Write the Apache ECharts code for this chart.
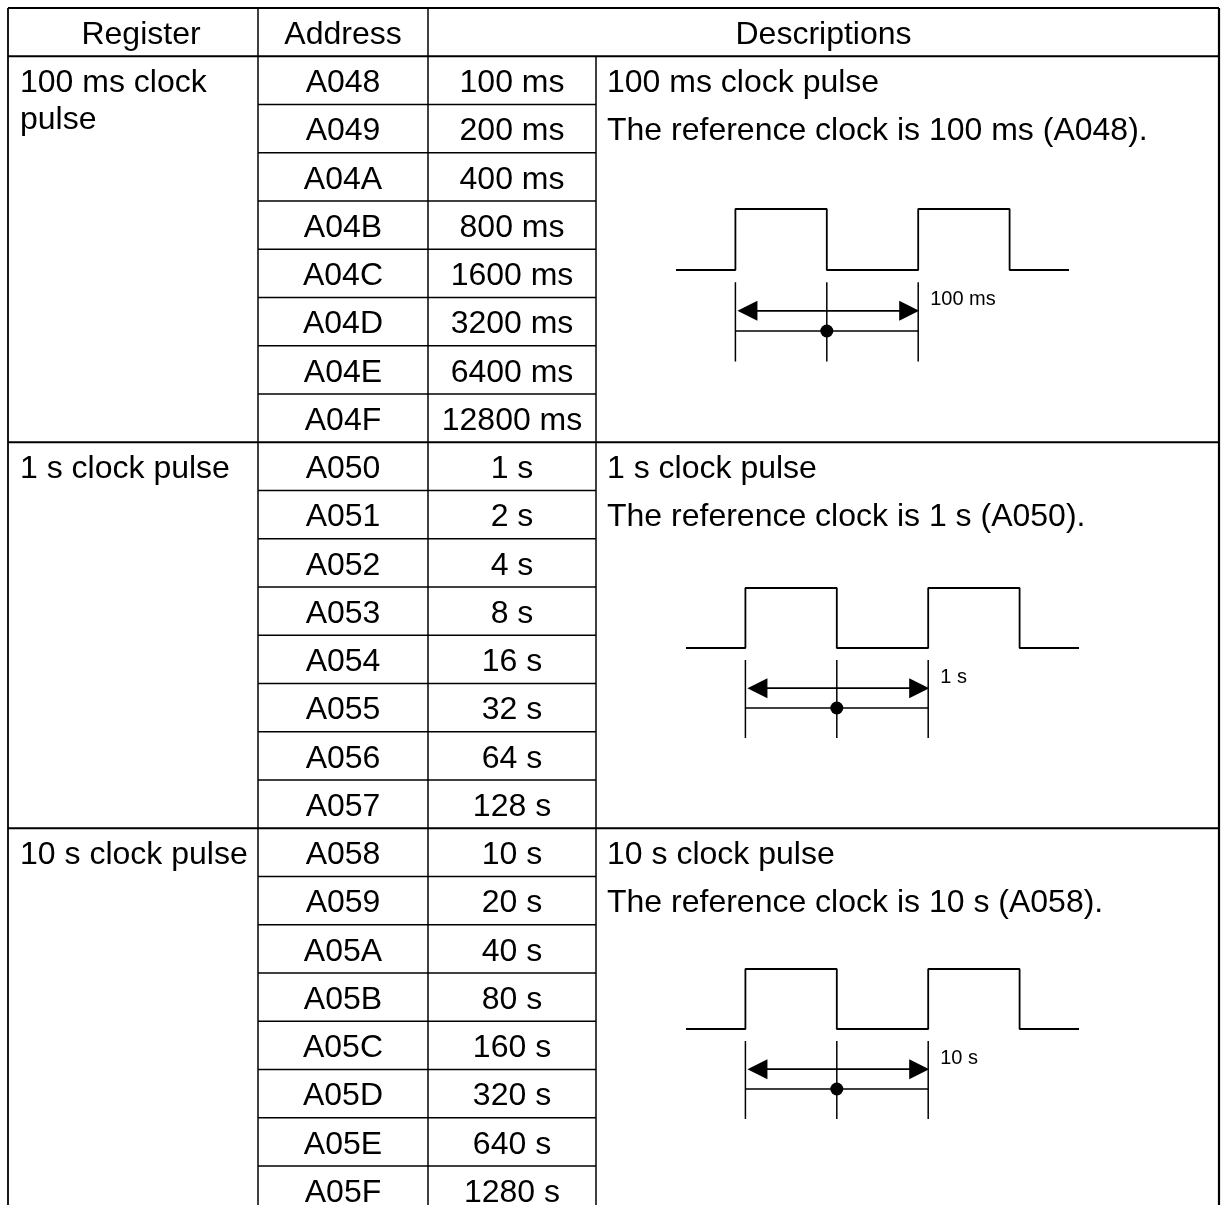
<!DOCTYPE html>
<html>
<head>
<meta charset="utf-8">
<script src="https://cdn.jsdelivr.net/npm/echarts@6/dist/echarts.min.js"></script>
<style>html,body{margin:0;padding:0;background:#fff}#c{width:1224px;height:1205px}</style>
</head>
<body>
<div id="c"></div>
<script>
// ---------------- data ----------------
const headers = ['Register', 'Address', 'Descriptions'];
const registers = ['100 ms clock pulse', '1 s clock pulse', '10 s clock pulse'];
const addresses = [
  'A048', 'A049', 'A04A', 'A04B', 'A04C', 'A04D', 'A04E', 'A04F',
  'A050', 'A051', 'A052', 'A053', 'A054', 'A055', 'A056', 'A057',
  'A058', 'A059', 'A05A', 'A05B', 'A05C', 'A05D', 'A05E', 'A05F'
];
const periods = [
  '100 ms', '200 ms', '400 ms', '800 ms', '1600 ms', '3200 ms', '6400 ms', '12800 ms',
  '1 s', '2 s', '4 s', '8 s', '16 s', '32 s', '64 s', '128 s',
  '10 s', '20 s', '40 s', '80 s', '160 s', '320 s', '640 s', '1280 s'
];
const descTitles = ['100 ms clock pulse', '1 s clock pulse', '10 s clock pulse'];
const descRefs = [
  'The reference clock is 100 ms (A048).',
  'The reference clock is 1 s (A050).',
  'The reference clock is 10 s (A058).'
];
const refLabels = ['100 ms', '1 s', '10 s'];
// waveform in half-periods (x) and logic level (y)
const waveX = [-0.65, 0, 0, 1, 1, 2, 2, 3, 3, 3.65];
const waveLevel = [0, 0, 1, 1, 0, 0, 1, 1, 0, 0];
const refMarks = [0, 1, 2];   // marker lines (half-periods)
const refSpan = [0, 2];       // one reference period
const refMid = 1;

// ---------------- layout ----------------
const FONT = '"Liberation Sans", Arial, Helvetica, sans-serif';
const FS = 32;
const COLS = [8, 258, 428, 596, 1219];
const ROWS_PER_GROUP = 8;
const NROWS = registers.length * ROWS_PER_GROUP;
const TABLE_GRID = { left: 0, top: 8, width: 1224, height: 48.25 * (NROWS + 1) };
const DIAG_GRIDS = [
  { left: 676, top: 209, width: 393, height: 152.5 },
  { left: 686, top: 588, width: 393, height: 150 },
  { left: 686, top: 969, width: 393, height: 150 }
];
const DIAG_Y = { arrow: -0.67, lower: -1.0, markTop: -0.2, markBot: -1.5 };

// ---------------- table segments ----------------
const segs = [];
segs.push([COLS[0], -1, COLS[4], -1, 1.8]);
for (let r = 0; r <= NROWS; r++) {
  if (r % ROWS_PER_GROUP === 0) segs.push([COLS[0], r, COLS[4], r, 1.8]);
  else segs.push([COLS[1], r, COLS[3], r, 1.5]);
}
segs.push([COLS[0], -1, COLS[0], NROWS, 1.8]);
segs.push([COLS[1], -1, COLS[1], NROWS, 1.5]);
segs.push([COLS[2], -1, COLS[2], NROWS, 1.5]);
segs.push([COLS[3], 0, COLS[3], NROWS, 1.5]);
segs.push([COLS[4], -1, COLS[4], NROWS, 2.2]);

// ---------------- table cells ----------------
const cells = [];
cells.push({ x: (COLS[0] + COLS[1]) / 2 + 8, row: -0.5, text: headers[0], align: 'center' });
cells.push({ x: (COLS[1] + COLS[2]) / 2, row: -0.5, text: headers[1], align: 'center' });
cells.push({ x: (COLS[2] + COLS[4]) / 2, row: -0.5, text: headers[2], align: 'center' });
registers.forEach((t, g) => {
  cells.push({ x: COLS[0] + 12, row: g * ROWS_PER_GROUP, text: t, align: 'left', wrap: COLS[1] - COLS[0] - 20 });
  cells.push({ x: COLS[3] + 11, row: g * ROWS_PER_GROUP + 0.5, text: descTitles[g], align: 'left' });
  cells.push({ x: COLS[3] + 11, row: g * ROWS_PER_GROUP + 1.5, text: descRefs[g], align: 'left' });
});
addresses.forEach((a, i) => {
  cells.push({ x: (COLS[1] + COLS[2]) / 2, row: i + 0.5, text: a, align: 'center' });
  cells.push({ x: (COLS[2] + COLS[3]) / 2, row: i + 0.5, text: periods[i], align: 'center' });
});

const grids = [TABLE_GRID].concat(DIAG_GRIDS).map(g => Object.assign({ containLabel: false, outerBoundsMode: 'none', show: false }, g));
const xAxes = [{ type: 'value', gridIndex: 0, min: 0, max: 1224, show: false }];
const yAxes = [{ type: 'value', gridIndex: 0, min: -1, max: NROWS, inverse: true, show: false }];
DIAG_GRIDS.forEach((g, i) => {
  xAxes.push({ type: 'value', gridIndex: i + 1, min: waveX[0], max: waveX[waveX.length - 1], show: false });
  yAxes.push({ type: 'value', gridIndex: i + 1, min: DIAG_Y.markBot, max: 1, show: false });
});

const series = [];
series.push({
  type: 'custom', xAxisIndex: 0, yAxisIndex: 0, silent: true,
  data: segs.map(s => [s[0], s[1], s[2], s[3]]),
  renderItem: (params, api) => {
    const s = segs[params.dataIndex];
    const p1 = api.coord([s[0], s[1]]), p2 = api.coord([s[2], s[3]]);
    return { type: 'line', shape: { x1: p1[0], y1: p1[1], x2: p2[0], y2: p2[1] },
      style: { stroke: '#000', lineWidth: s[4] } };
  }
});
series.push({
  type: 'custom', xAxisIndex: 0, yAxisIndex: 0, silent: true,
  data: cells.map(c => [c.x, c.row]),
  renderItem: (params, api) => {
    const c = cells[params.dataIndex];
    if (c.wrap) {
      const p = api.coord([c.x, c.row]);
      return { type: 'text', x: p[0], y: p[1] + 8,
        style: { text: c.text, fill: '#000', fontSize: FS, fontFamily: FONT, align: 'left',
          verticalAlign: 'top', lineHeight: 37, width: c.wrap, overflow: 'break' } };
    }
    const p = api.coord([c.x, c.row]);
    return { type: 'text', x: p[0], y: p[1] + 3,
      style: { text: c.text, fill: '#000', fontSize: FS, fontFamily: FONT, align: c.align, verticalAlign: 'middle' } };
  }
});

DIAG_GRIDS.forEach((g, i) => {
  series.push({
    type: 'line', xAxisIndex: i + 1, yAxisIndex: i + 1, silent: true,
    data: waveX.map((x, k) => [x, waveLevel[k]]),
    showSymbol: false, symbol: 'none',
    lineStyle: { color: '#000', width: 1.8 }
  });
  series.push({
    type: 'custom', xAxisIndex: i + 1, yAxisIndex: i + 1, silent: true,
    data: [[refSpan[0], DIAG_Y.arrow]],
    renderItem: (params, api) => {
      const ch = [];
      refMarks.forEach(m => {
        const a = api.coord([m, DIAG_Y.markTop]), b = api.coord([m, DIAG_Y.markBot]);
        ch.push({ type: 'line', shape: { x1: a[0], y1: a[1], x2: b[0], y2: b[1] }, style: { stroke: '#000', lineWidth: 1.5 } });
      });
      const L = api.coord([refSpan[0], DIAG_Y.arrow]), R = api.coord([refSpan[1], DIAG_Y.arrow]);
      const hl = 20, hw = 10;
      ch.push({ type: 'line', shape: { x1: L[0] + 10, y1: L[1], x2: R[0] - 10, y2: R[1] }, style: { stroke: '#000', lineWidth: 1.8 } });
      ch.push({ type: 'polygon', shape: { points: [[L[0] + 2, L[1]], [L[0] + 2 + hl, L[1] - hw], [L[0] + 2 + hl, L[1] + hw]] }, style: { fill: '#000' } });
      ch.push({ type: 'polygon', shape: { points: [[R[0] + 1, R[1]], [R[0] + 1 - hl, R[1] - hw], [R[0] + 1 - hl, R[1] + hw]] }, style: { fill: '#000' } });
      const LL = api.coord([refSpan[0], DIAG_Y.lower]), LR = api.coord([refSpan[1], DIAG_Y.lower]);
      ch.push({ type: 'line', shape: { x1: LL[0], y1: LL[1], x2: LR[0], y2: LR[1] }, style: { stroke: '#000', lineWidth: 1.5 } });
      const D = api.coord([refMid, DIAG_Y.lower]);
      ch.push({ type: 'circle', shape: { cx: D[0], cy: D[1], r: 6.5 }, style: { fill: '#000' } });
      ch.push({ type: 'text', x: R[0] + 12, y: R[1] - 11,
        style: { text: refLabels[i], fill: '#000', fontSize: 20, fontFamily: FONT, align: 'left', verticalAlign: 'middle' } });
      return { type: 'group', children: ch };
    }
  });
});

const chart = echarts.init(document.getElementById('c'), null, { renderer: 'canvas' });
chart.setOption({
  backgroundColor: '#fff',
  animation: false,
  tooltip: { show: false },
  grid: grids,
  xAxis: xAxes,
  yAxis: yAxes,
  series: series
});
</script>
</body>
</html>
